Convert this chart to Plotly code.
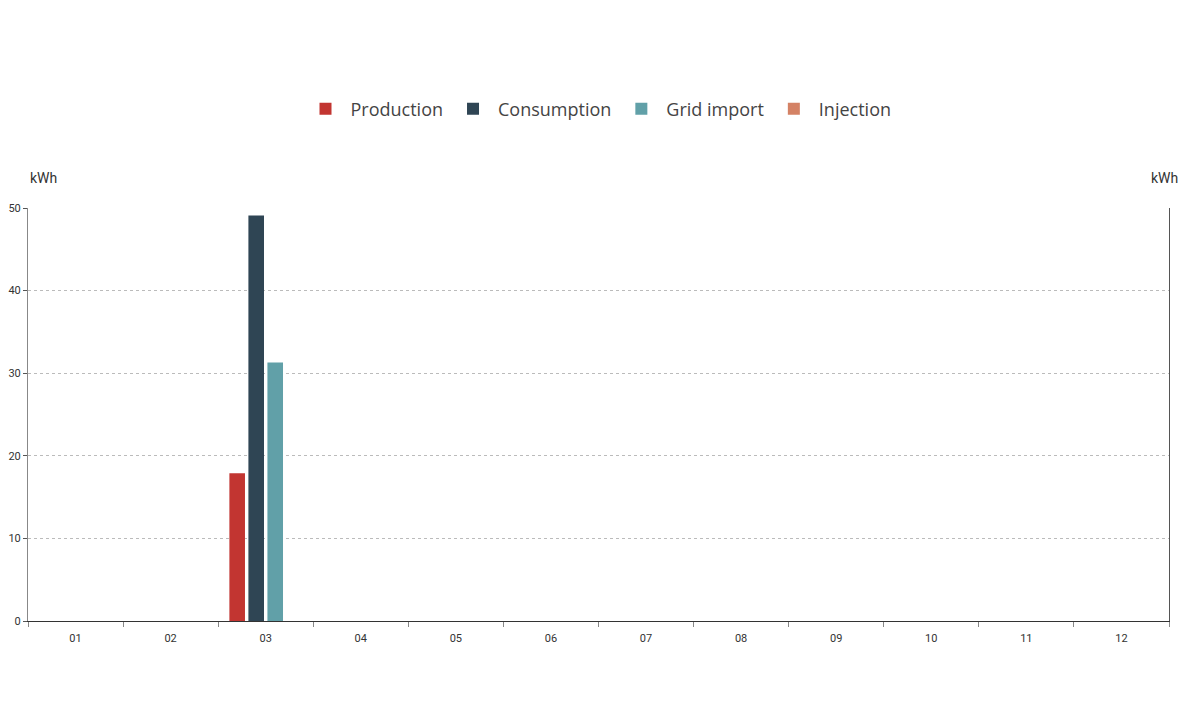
import plotly.graph_objects as go

# monthly energy values (kWh)
months = ["01", "02", "03", "04", "05", "06", "07", "08", "09", "10", "11", "12"]
production = [0, 0, 17.9, 0, 0, 0, 0, 0, 0, 0, 0, 0]
consumption = [0, 0, 49.1, 0, 0, 0, 0, 0, 0, 0, 0, 0]
grid_import = [0, 0, 31.3, 0, 0, 0, 0, 0, 0, 0, 0, 0]
injection = [0, 0, 0, 0, 0, 0, 0, 0, 0, 0, 0, 0]

series = [
    ("Production", production, "#c23531"),
    ("Consumption", consumption, "#2f4554"),
    ("Grid import", grid_import, "#61a0a8"),
    ("Injection", injection, "#d48265"),
]

# the page body has an 8px margin, so the figure is a bit smaller than the window
W, H = 1192, 713

fig = go.Figure()
for name, vals, col in series:
    fig.add_trace(go.Bar(x=months, y=vals, name=name,
                         marker=dict(color=col, line=dict(width=0))))

# invisible trace so the right axis shows up
fig.add_trace(go.Scatter(x=months, y=[None] * len(months), yaxis="y2", mode="lines",
                         showlegend=False, hoverinfo="skip"))

fig.update_layout(
    width=W, height=H,
    margin=dict(l=20, r=31, t=200, b=100, autoexpand=False),
    paper_bgcolor="white", plot_bgcolor="white",
    font=dict(family="Roboto", color="#333", size=11),
    barmode="group", bargap=0.2, bargroupgap=0.18,
    legend=dict(orientation="h", x=0.5, xanchor="center",
                yref="container", y=1 - 101 / H, yanchor="middle",
                font=dict(family="Open Sans", size=18, color="#444"),
                itemwidth=40, traceorder="normal"),
    xaxis=dict(type="category", range=[-0.5, 11.5], automargin=False,
               showline=True, linecolor="#333", linewidth=1,
               ticks="outside", tickson="boundaries", ticklen=5, tickcolor="#888",
               ticklabelstandoff=7,
               showgrid=False, tickfont=dict(size=11, color="#333")),
    yaxis=dict(range=[0, 50], dtick=10, automargin=False,
               showline=True, linecolor="#888", linewidth=1,
               ticks="outside", ticklen=4, tickcolor="#555",
               showgrid=True, gridcolor="#bbb", griddash="3px,3px", gridwidth=1,
               zeroline=False, tickfont=dict(size=11, color="#333")),
    yaxis2=dict(range=[0, 50], overlaying="y", side="right", showline=True,
                automargin=False, linecolor="#555", linewidth=1, showgrid=False,
                zeroline=False, showticklabels=False, ticks=""),
    annotations=[
        dict(text="kWh", xref="paper", yref="paper", x=0.0, y=1.073,
             xanchor="left", yanchor="middle", showarrow=False,
             font=dict(family="Roboto", size=14, color="#333")),
        dict(text="kWh", xref="paper", yref="paper", x=1.010, y=1.073,
             xanchor="right", yanchor="middle", showarrow=False,
             font=dict(family="Roboto", size=14, color="#333")),
    ],
)

fig.write_html("out.html")
